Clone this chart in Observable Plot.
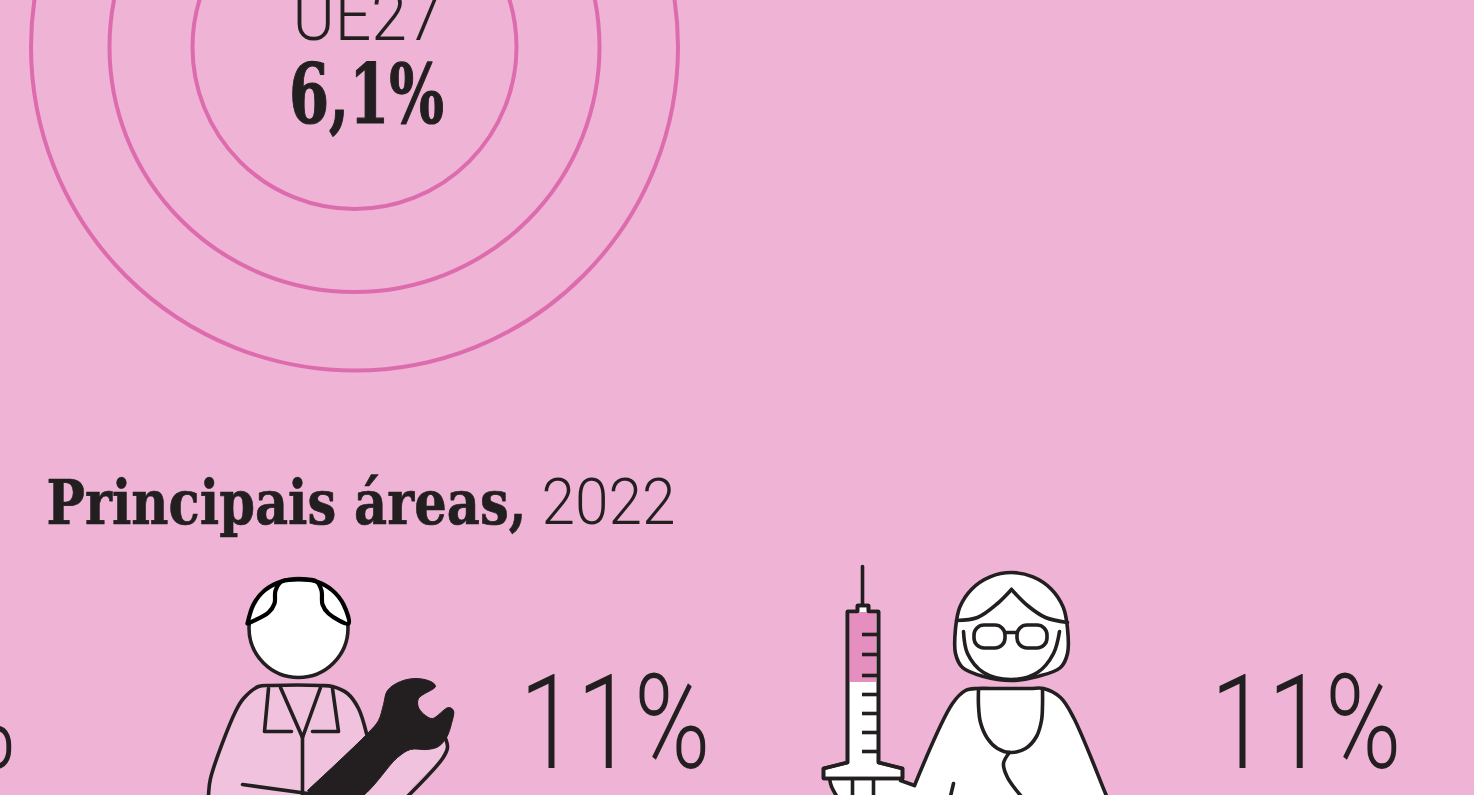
<!DOCTYPE html>
<html><head><meta charset="utf-8">
<style>html,body{margin:0;padding:0;background:#eeb3d5;overflow:hidden}svg{display:block}</style>
<script src="https://cdn.jsdelivr.net/npm/d3@7"></script>
<script src="https://cdn.jsdelivr.net/npm/@observablehq/plot@0.6"></script>
</head><body>
<script>
const ringRadii = [323.5, 245, 162];
const ringCentre = [354, 46.5];
const euLabel = "UE27";
const euValue = "6,1%";
const titleBold = "Principais áreas,";
const titleYear = "2022";
const shareLabels = ["11%", "11%", "11%"];
const ink = "#231f20", white = "#fff", ringPink = "#dd6cae", bg = "#eeb3d5", jacketPink = "#f0c2dd", dosePink = "#e48fbf";

// mechanic icon
const jacketFillPts = [[207,830],[207,795],[208,780],[235,710],[243,697],[258,686],[332,686],[347,693],[360,710],[366,732],[445,737],[447,747],[442,757],[405,797],[405,830]];
const jacketLeft = [[207,830],[208,795],[210,778],[235,711],[243,698],[258,686],[272,685],[320,685],[332,686],[347,693],[358,708],[366,733]];
const armRight = [[443,733],[447,747],[442,758],[405,798]];
const collarL = [[268,688],[264,731],[291,731]];
const collarR = [[332,688],[338,731],[312,731]];
const collarV = [[280,687],[302,737],[320,687]];
const placket = [[302,735],[302,795]];
const pocket = [[242,784],[322,795]];
const wrench = [[307,790],[367,733],[378,720],[383,704],[387,690],[400,681],[417,678],[432,682],[435,686],[418,698],[418,707],[425,715],[432,718],[448,707],[453,710],[451,723],[446,737],[438,746],[427,749],[410,749],[397,757],[355,800],[310,800]];
const mechanicHead = [[298, 627.5]];
const hair = [[247,623],[268,612],[274,603],[275,590],[281,581],[298,579],[316,581],[321,590],[322,604],[328,613],[348,623],[343,604],[332,590],[316,581],[298,579],[281,581],[264,590],[253,604],[247,623]];

// syringe icon
const needle = [[862,566],[862,606]];
const doseBar = [[849,612,876,682]];
const barrel = [[857,611],[857,605],[868,605],[868,611],[878,611],[878,762],[902,768],[902,778],[823,778],[823,768],[847,762],[847,611],[857,611]];
const tickY = [634,654,675,694,713,732,751];
const handFill = [[828,778],[830,786],[836,797],[836,830],[914,830],[914,785],[900,778]];
const handEdge = [[829,778],[831,786],[837,797]];
const fingers = [[852,778,852,796],[873,778,873,796]];

// doctor icon
const gown = [[914,785],[900,780],[880,830],[1120,830],[1105,793],[1073,717],[1060,697],[1043,688],[1030,688],[990,688],[977,688],[965,690],[952,703],[914,785]];
const hairBack = [[955,628],[955,653],[962,667],[983,676],[1011,680],[1037,676],[1060,667],[1067,653],[1067,628],[1062.7,606.6],[1050.6,588.4],[1032.4,576.3],[1011,572],[989.6,576.3],[971.4,588.4],[959.3,606.6],[955,628]];
const face = [[963,631],[967,653],[983,672],[1011,679],[1037,672],[1053,653],[1059,631]];
const fringe = [[956,620],[977,617],[997,603],[1011,589]];
const fringeR = [[1011,589],[1027,605],[1045,617],[1067,622]];
const bridge = [[1005,632],[1017,632]];
const glasses = [[974,625,1005,648],[1017,625,1047,648]];
const stethoscope = [[978,689],[978,705],[980,722],[987,738],[997,748],[1010,752],[1025,748],[1036,736],[1041,720],[1042,705],[1042,689]];
const tube = [[1009,752],[1003,763],[1007,777],[1021,796]];
const armLine = [[953,783],[949,800]];

const sw = 3.6;
const px = a => a[0], py = a => a[1];
const ln = (pts, o = {}) => Plot.line(pts, {x: px, y: py, stroke: ink, strokeWidth: sw, strokeLinejoin: "round", strokeLinecap: "round", ...o});
const soft = {curve: "catmull-rom"};
const slabLight = "Roboto";
const slabBold = "'DejaVu Serif'";
const fits = [];
const txt = (label, x, y, size, family, weight, anchor, span, heavy = 0) => {
  fits.push(span);
  return Plot.text([label], {x: () => x, y: () => y, text: d => d, fontSize: size, fontFamily: family, fontWeight: weight, fill: ink, stroke: heavy ? ink : "none", strokeWidth: heavy, textAnchor: anchor, lineAnchor: "bottom"});
};

const textMarks = [
  txt(euLabel, 367, 39, 70, slabLight, 300, "middle", 150),
  txt(euValue, 366, 122, 82, slabBold, 700, "middle", 155, 1.2),
  txt(titleBold, 46, 523, 62, slabBold, 700, "start", 480, 0.7),
  txt(titleYear, 541, 523, 64, slabLight, 300, "start", 134),
  txt(shareLabels[0], 16, 767, 132, slabLight, 300, "end", 191),
  txt(shareLabels[1], 710, 767, 132, slabLight, 300, "end", 191),
  txt(shareLabels[2], 1401, 767, 132, slabLight, 300, "end", 191)
];

const chart = Plot.plot({
  width: 1474, height: 795, margin: 0,
  x: {domain: [0, 1474], range: [0, 1474], axis: null},
  y: {domain: [0, 795], range: [0, 795], axis: null},
  r: {type: "identity"},
  style: {background: bg},
  marks: [
    Plot.dot(ringRadii, {x: () => ringCentre[0], y: () => ringCentre[1], r: d => d, stroke: ringPink, strokeWidth: 4, fill: "none"}),
    ...textMarks,

    ln(jacketFillPts, {stroke: "none", fill: jacketPink, ...soft}),
    ln(jacketLeft, soft),
    ln(armRight, soft),
    ln(collarL), ln(collarR), ln(collarV), ln(placket), ln(pocket),
    ln(wrench, {fill: ink, stroke: ink, strokeWidth: 1, ...soft}),
    Plot.dot(mechanicHead, {x: px, y: py, r: () => 49.5, fill: white, stroke: ink, strokeWidth: sw}),
    ln(hair, {fill: white, stroke: "#000", strokeWidth: 4.2, ...soft}),

    ln(handFill, {fill: white, stroke: "none"}),
    ln(handEdge, soft),
    Plot.link(fingers, {x1: d => d[0], y1: d => d[1], x2: d => d[2], y2: d => d[3], stroke: ink, strokeWidth: sw}),
    ln(needle),
    ln(barrel, {fill: white}),
    Plot.rect(doseBar, {x1: d => d[0], y1: d => d[1], x2: d => d[2], y2: d => d[3], fill: dosePink}),
    ln(barrel),
    Plot.ruleY(tickY, {x1: 862, x2: 878, stroke: ink, strokeWidth: sw}),

    ln(gown, {fill: white, stroke: "none"}),
    ln(gown.slice(0, 2)),
    ln(gown.slice(3), soft),
    ln(stethoscope, soft), ln(tube, soft), ln(armLine),
    ln(hairBack, {fill: white, ...soft}),
    ln(face, soft), ln(fringe, soft), ln(fringeR, soft), ln(bridge),
    Plot.rect(glasses, {x1: d => d[0], y1: d => d[1], x2: d => d[2], y2: d => d[3], fill: white, stroke: ink, strokeWidth: sw, rx: 10})
  ]
});
d3.select(chart).selectAll("text").each(function (_, i) {
  d3.select(this).attr("textLength", fits[i]).attr("lengthAdjust", "spacingAndGlyphs");
});
document.body.append(chart);
</script>
</body></html>
